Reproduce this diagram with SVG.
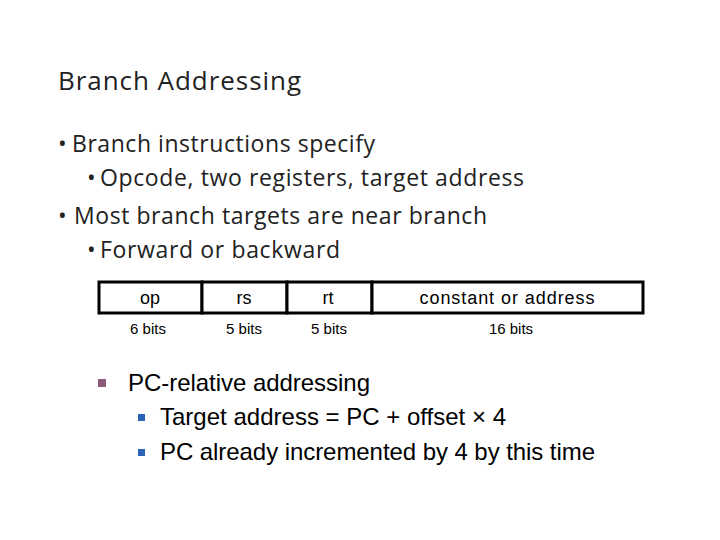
<svg xmlns="http://www.w3.org/2000/svg" width="720" height="540" viewBox="0 0 720 540">
<style>
.c{font-family:"Open Sans","DejaVu Sans",sans-serif;fill:#222}
.a{font-family:"Liberation Sans",Arial,sans-serif;fill:#000}
.cell{fill:#fff;stroke:#000;stroke-width:3}
</style>
<rect width="720" height="540" fill="#fff"/>
<text class="c" x="58" y="90" font-size="26" textLength="243">Branch Addressing</text>
<g font-size="23">
<text class="c" x="58" y="152">•</text><text class="c" x="72" y="152" textLength="303">Branch instructions specify</text>
<text class="c" x="87" y="186">•</text><text class="c" x="100" y="186" textLength="424">Opcode, two registers, target address</text>
<text class="c" x="58" y="224">•</text><text class="c" x="74" y="224" textLength="413">Most branch targets are near branch</text>
<text class="c" x="87" y="258">•</text><text class="c" x="100" y="258" textLength="240">Forward or backward</text>
</g>
<g id="fields">
<rect class="cell" x="99" y="282" width="103" height="31"/>
<rect class="cell" x="202" y="282" width="85" height="31"/>
<rect class="cell" x="287" y="282" width="85" height="31"/>
<rect class="cell" x="372" y="282" width="271" height="31"/>
<g class="a" font-size="18" text-anchor="middle">
<text x="150" y="304">op</text>
<text x="244" y="304">rs</text>
<text x="328" y="304">rt</text>
<text x="507" y="304" textLength="175">constant or address</text>
</g>
<g class="a" font-size="15" text-anchor="middle" fill="#333">
<text x="148" y="334">6 bits</text>
<text x="244" y="334">5 bits</text>
<text x="329" y="334">5 bits</text>
<text x="511" y="334">16 bits</text>
</g>
</g>
<rect x="98" y="379" width="8" height="8" fill="#8b5a7a"/>
<text class="a" x="128" y="391" font-size="24" textLength="242">PC-relative addressing</text>
<rect x="138" y="414" width="7" height="7" fill="#2a62b8"/>
<text class="a" x="160" y="425" font-size="24" textLength="346">Target address = PC + offset × 4</text>
<rect x="138" y="449" width="7" height="7" fill="#2a62b8"/>
<text class="a" x="160" y="460" font-size="24" textLength="435">PC already incremented by 4 by this time</text>
</svg>
